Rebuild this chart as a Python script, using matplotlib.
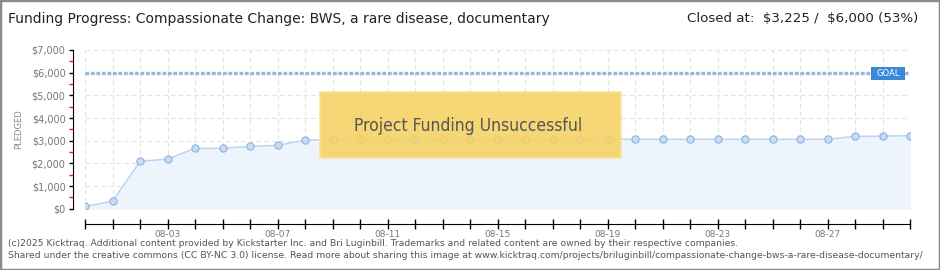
import matplotlib.pyplot as plt
from matplotlib.patches import Rectangle
import numpy as np

# data
dates = ['07-31', '08-01', '08-02', '08-03', '08-04', '08-05', '08-06', '08-07',
         '08-08', '08-09', '08-10', '08-11', '08-12', '08-13', '08-14', '08-15',
         '08-16', '08-17', '08-18', '08-19', '08-20', '08-21', '08-22', '08-23',
         '08-24', '08-25', '08-26', '08-27', '08-28', '08-29', '08-30']
pledged = [100, 330, 2090, 2190, 2665, 2665, 2750, 2795,
           3020, 3060, 3060, 3060, 3060, 3060, 3060, 3060,
           3060, 3060, 3060, 3060, 3060, 3060, 3060, 3060,
           3060, 3060, 3060, 3060, 3190, 3200, 3225]
goal = 6000
yticks = [0, 1000, 2000, 3000, 4000, 5000, 6000, 7000]
ytick_labels = ['$0', '$1,000', '$2,000', '$3,000', '$4,000', '$5,000', '$6,000', '$7,000']
shown_dates = ['08-03', '08-07', '08-11', '08-15', '08-19', '08-23', '08-27']

W, H = 940, 270
fig = plt.figure(figsize=(W / 100, H / 100), dpi=100)
fig.patch.set_facecolor('white')

def fx(px):
    return px / W

def fy(py):
    return 1 - py / H

ax = fig.add_axes([fx(85), fy(208.7), fx(910) - fx(85), fy(50) - fy(208.7)])
ax.set_facecolor('white')
x = np.arange(len(dates))

ax.fill_between(x, pledged, 0, color='#edf4fc', zorder=1)
ax.plot(x, pledged, color='#b9d5f3', lw=1.1, zorder=3)
ax.plot(x, pledged, 'o', ms=5.2, mfc='#c6ddf7', mec='#8fb1da', mew=0.8, zorder=4)
ax.axhline(goal, color='#93b7df', lw=2.4, dashes=(1.1, 0.55), zorder=2)

ax.set_xlim(0, len(dates) - 1)
ax.set_ylim(0, 7000)
ax.set_xticks(x)
ax.set_xticklabels([d if d in shown_dates else '' for d in dates])
ax.set_yticks(yticks)
ax.set_yticklabels([s.replace('$', r'\$') for s in ytick_labels])
ax.set_yticks(np.arange(500, 7000, 1000), minor=True)
ax.grid(True, color='#e3e3e3', ls=(0, (4, 3)), lw=0.8)
ax.set_axisbelow(True)

for s in ['top', 'right']:
    ax.spines[s].set_visible(False)
ax.spines['left'].set_position(('outward', 9))
ax.spines['bottom'].set_position(('outward', 11))
ax.spines['left'].set_bounds(0, 7000)
ax.tick_params(axis='y', which='major', direction='out', length=3, width=1,
               color='black', labelsize=7, labelcolor='#777777', pad=2)
ax.tick_params(axis='y', which='minor', direction='out', length=3, width=1,
               color='#dd2222')
ax.tick_params(axis='x', direction='inout', length=7, width=1, color='black',
               labelsize=6.5, labelcolor='#777777', pad=1)
ax.set_ylabel('PLEDGED', fontsize=6, color='#888888', labelpad=6)

# failed banner
fig.patches.append(Rectangle((fx(320), fy(158)), fx(621) - fx(320), fy(92) - fy(158),
                             transform=fig.transFigure, facecolor='#f6d262',
                             edgecolor='#f8e38f', lw=1.2, alpha=0.88, zorder=5))
fig.text(fx(468), fy(126), 'Project Funding Unsuccessful', ha='center', va='center',
         fontsize=12.5, color='#555555', family='DejaVu Sans', fontstretch='condensed',
         zorder=6)

# goal tag
fig.patches.append(Rectangle((fx(871), fy(80)), fx(905) - fx(871), fy(67) - fy(80),
                             transform=fig.transFigure, facecolor='#3b88d8',
                             edgecolor='none', zorder=5))
fig.text(fx(888), fy(73.5), 'GOAL', ha='center', va='center', fontsize=6,
         color='white', zorder=6)

# header
fig.text(fx(8), fy(19), 'Funding Progress: Compassionate Change: BWS, a rare disease, documentary',
         ha='left', va='center', fontsize=10, color='#222222')
fig.text(fx(918), fy(19), r'Closed at:  \$3,225 /  \$6,000 (53%)',
         ha='right', va='center', fontsize=9.6, color='#222222')

# footer
fig.text(fx(8), fy(243), '(c)2025 Kicktraq. Additional content provided by Kickstarter Inc. and Bri Luginbill. '
         'Trademarks and related content are owned by their respective companies.',
         ha='left', va='center', fontsize=6.7, color='#555555')
fig.text(fx(8), fy(256), 'Shared under the creative commons (CC BY-NC 3.0) license. Read more about sharing this '
         'image at www.kicktraq.com/projects/briluginbill/compassionate-change-bws-a-rare-disease-documentary/',
         ha='left', va='center', fontsize=6.7, color='#555555')

# outer frame
fig.patches.append(Rectangle((0, 0), 1, 1, transform=fig.transFigure, fill=False,
                             edgecolor='#8a8a8a', lw=2.5, zorder=10))

fig.savefig('out.png', dpi=100)
